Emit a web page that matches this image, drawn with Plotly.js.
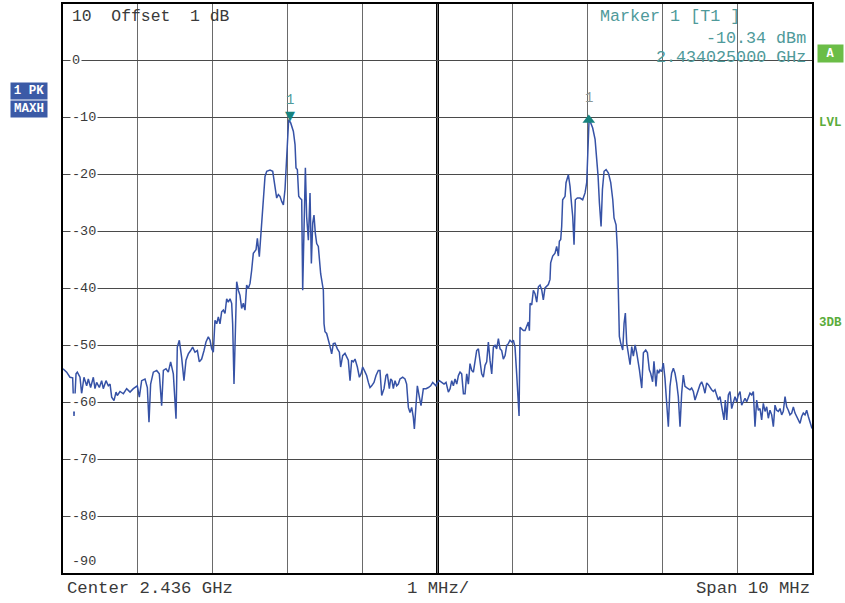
<!DOCTYPE html>
<html><head><meta charset="utf-8">
<script src="https://cdn.plot.ly/plotly-3.0.1.min.js"></script>
<style>html,body{margin:0;padding:0;background:#fff;}#chart{width:845px;height:603px;}</style>
</head><body><div id="chart"></div>
<script>
// ---- data ----
const startMHz = 2431;
const spanMHz = 10;
const centerMHz = 2436;
const refLevelDbm = 10;
const offsetDb = 1;
const freqOffsetMHz = [
0.000,0.049,0.093,0.129,0.147,0.174,0.191,0.227,0.249,0.280,
0.316,0.338,0.369,0.405,0.427,0.449,0.485,0.516,0.538,0.574,
0.605,0.628,0.650,0.681,0.708,0.725,0.761,0.806,0.850,0.895,
0.939,0.992,1.019,1.050,1.095,1.126,1.148,1.170,1.206,1.251,
1.286,1.317,1.340,1.375,1.406,1.437,1.473,1.509,1.526,1.553,
1.584,1.615,1.642,1.673,1.704,1.731,1.762,1.794,1.820,1.851,
1.883,1.909,1.940,1.963,1.985,2.007,2.029,2.052,2.074,2.096,
2.118,2.141,2.163,2.185,2.207,2.230,2.252,2.265,2.283,2.301,
2.319,2.341,2.363,2.385,2.408,2.430,2.452,2.474,2.497,
2.519,2.541,2.577,2.595,2.621,2.639,2.666,2.697,2.720,2.764,
2.800,2.831,2.853,2.875,2.897,2.920,2.942,2.964,2.986,3.000,
3.013,3.040,3.076,3.098,3.111,3.129,3.147,3.164,3.187,3.200,
3.218,3.236,3.253,3.276,3.298,3.316,3.334,3.351,3.369,3.387,
3.409,3.440,3.476,
3.485,3.498,3.520,3.556,3.587,3.609,3.632,3.663,3.690,3.707,
3.734,3.765,3.787,3.809,3.832,3.854,3.876,3.899,3.930,3.957,
3.979,4.001,4.023,4.054,4.077,4.099,4.121,4.152,4.179,4.210,
4.232,4.255,4.286,4.312,4.330,4.357,4.375,4.393,4.410,4.433,
4.455,4.477,4.499,4.535,4.566,4.588,4.611,4.633,4.655,4.677,
4.691,4.713,4.731,4.758,4.780,4.811,4.847,4.878,4.909,4.936,
4.958,4.980,4.998,5.025,5.056,5.087,5.114,5.145,5.168,5.190,
5.212,5.234,5.257,5.279,5.301,5.323,5.346,5.368,5.390,5.412,
5.434,5.457,5.479,5.501,5.523,5.546,5.568,5.590,5.612,5.635,
5.657,5.679,5.701,5.724,5.746,5.768,5.790,5.813,5.835,5.857,
5.879,5.902,5.924,5.946,5.968,5.991,6.013,6.035,6.057,6.080,
6.089,6.102,6.124,6.146,6.169,6.191,6.213,6.227,6.236,6.258,
6.280,6.302,6.325,6.347,6.369,
6.391,6.413,6.435,6.458,6.480,6.502,6.511,6.538,6.569,6.591,
6.614,6.627,6.645,6.658,6.671,6.703,6.716,6.747,6.769,6.792,
6.805,6.823,6.840,6.867,6.903,6.938,6.970,6.992,7.001,7.010,
7.023,7.046,7.072,7.104,7.126,7.144,7.162,7.184,7.202,7.224,
7.251,7.282,7.313,7.340,7.357,7.384,7.402,7.415,7.428,7.446,
7.473,7.491,7.508,7.526,7.549,7.571,7.593,7.615,7.638,7.660,
7.696,7.727,7.749,7.780,7.803,
7.828,7.846,7.872,7.890,7.904,7.917,7.935,7.953,7.970,7.993,
8.015,8.037,8.060,8.082,8.104,8.126,8.149,8.171,8.193,8.215,
8.238,8.260,8.282,8.304,8.336,8.371,8.393,8.416,8.438,8.460,
8.482,8.505,8.527,8.549,8.571,8.594,8.616,8.638,8.660,8.683,
8.705,8.727,8.749,8.772,8.794,8.807,8.825,8.843,8.861,8.883,
8.905,8.928,8.950,8.972,8.994,9.017,9.039,9.061,9.083,9.106,
9.128,9.150,9.172,9.195,9.217,9.239,9.261,9.284,9.306,9.328,
9.350,9.373,9.395,9.417,9.439,9.462,9.484,9.506,9.528,9.551,
9.573,9.595,9.617,9.640,9.662,9.684,9.706,9.729,9.751,9.773,
9.795,9.818,9.840,9.862,9.884,9.907,9.929,9.951,9.973,10.000
];
const levelDbm = [
-54.1,-54.7,-55.6,-55.7,-62.4,-55.0,-54.7,-55.6,-58.5,-55.6,
-57.1,-55.9,-57.4,-55.6,-57.6,-56.5,-57.4,-56.2,-57.6,-56.2,
-57.1,-56.8,-59.1,-59.7,-58.2,-58.8,-58.1,-58.5,-57.6,-58.2,
-57.6,-57.1,-59.1,-56.2,-55.9,-57.4,-63.5,-56.8,-54.7,-54.4,
-55.0,-60.6,-54.4,-54.1,-54.7,-52.9,-55.0,-62.9,-50.3,-49.1,
-52.1,-56.2,-52.6,-51.5,-50.9,-50.3,-51.2,-50.9,-52.9,-52.4,
-50.9,-49.4,-48.5,-49.1,-50.6,-51.2,-45.6,-46.2,-45.0,-46.2,
-44.1,-43.8,-44.4,-41.8,-42.4,-41.8,-42.6,-46.2,-56.8,-47.4,
-38.8,-40.3,-41.2,-43.5,-42.6,-43.8,-39.4,-40.0,-39.1,
-36.8,-33.8,-33.2,-31.2,-34.4,-30.9,-25.6,-20.3,-19.4,-19.2,
-19.4,-22.6,-24.1,-23.5,-23.8,-24.7,-25.3,-22.6,-16.8,-12.6,
-10.3,-10.9,-12.4,-14.7,-18.8,-19.1,-23.8,-24.1,-24.4,-40.3,
-29.7,-18.8,-27.4,-31.5,-23.2,-35.6,-28.5,-27.1,-30.3,-32.1,
-32.6,-37.4,-40.3,
-46.2,-47.6,-47.9,-49.7,-51.5,-49.7,-49.6,-50.6,-51.2,-53.8,
-51.8,-51.4,-52.1,-52.6,-56.2,-52.6,-52.9,-52.4,-53.8,-55.6,
-55.0,-53.8,-54.4,-55.3,-56.5,-57.4,-57.1,-56.5,-55.3,-54.4,
-54.4,-58.8,-57.6,-55.3,-55.0,-57.6,-55.9,-56.2,-57.6,-56.2,
-57.1,-56.8,-55.9,-55.6,-55.9,-56.8,-60.9,-61.8,-60.9,-62.6,
-64.7,-59.7,-57.1,-59.1,-60.6,-57.6,-57.6,-57.4,-57.1,-56.5,
-56.8,-57.1,-56.5,-56.2,-56.5,-56.8,-56.5,-58.2,-57.6,-56.2,
-57.1,-55.9,-56.8,-55.3,-54.7,-55.0,-58.5,-58.5,-55.0,-56.8,
-53.2,-54.4,-54.7,-52.4,-50.9,-50.6,-52.6,-55.0,-55.6,-53.5,
-52.9,-49.4,-52.6,-55.0,-50.3,-50.0,-50.6,-48.8,-50.6,-50.9,
-52.4,-51.8,-50.0,-49.7,-49.1,-49.4,-49.1,-50.3,-55.0,-59.7,
-62.4,-46.8,-47.1,-47.4,-47.4,-46.5,-45.9,-47.4,-42.6,-42.9,
-40.3,-40.9,-42.4,-39.7,-39.4,
-40.2,-42.0,-39.9,-39.6,-39.3,-38.4,-35.5,-34.3,-33.8,-32.6,
-34.3,-31.7,-31.4,-29.1,-24.4,-23.8,-21.4,-20.0,-22.0,-25.5,
-27.3,-32.3,-24.4,-24.1,-24.1,-24.4,-23.2,-21.4,-17.9,-13.2,
-10.6,-10.9,-11.8,-13.8,-17.3,-20.3,-25.0,-29.1,-22.6,-19.4,
-19.1,-19.7,-21.4,-24.4,-27.6,-28.8,-33.2,-41.4,-48.4,-49.6,
-50.8,-46.1,-44.3,-49.6,-51.9,-53.4,-50.2,-51.9,-49.9,-51.3,
-54.3,-57.5,-51.3,-50.8,-51.3,
-54.3,-54.9,-56.4,-52.8,-56.1,-57.2,-54.3,-54.9,-54.3,-54.6,
-53.1,-55.8,-60.2,-64.3,-57.2,-54.9,-54.0,-54.9,-56.6,-59.0,
-64.3,-58.4,-55.2,-57.2,-57.5,-57.8,-57.5,-58.1,-59.6,-58.7,
-57.8,-56.9,-56.4,-57.2,-58.4,-56.6,-56.9,-57.5,-57.8,-58.1,
-57.8,-58.7,-59.6,-59.0,-60.8,-61.9,-63.1,-59.6,-63.1,-58.7,
-58.1,-61.1,-60.2,-59.0,-59.9,-58.7,-58.1,-60.5,-59.9,-59.3,
-59.9,-59.0,-58.4,-58.7,-58.1,-64.3,-59.6,-61.4,-61.1,-63.1,
-60.2,-61.6,-60.8,-62.8,-61.4,-62.2,-64.3,-60.5,-61.4,-61.6,
-61.1,-62.2,-61.6,-59.0,-60.8,-61.4,-62.2,-61.9,-60.8,-61.9,
-62.5,-63.1,-63.7,-62.5,-61.9,-62.2,-61.4,-62.5,-63.4,-64.6
];
const markerFreqMHz = [2434.025, 2438.02];
const markerLevelDbm = [-10.34, -10.4];
const yTickValues = [0, -10, -20, -30, -40, -50, -60, -70, -80, -90];
const yTickLabels = ['0', '-10', '-20', '-30', '-40', '-50', '-60', '-70', '-80', '-90'];
const traceTags = ['1 PK', 'MAXH'];
const sideLabels = ['LVL', '3DB'];

// ---- build ----
const NB = '\u00a0';
const sp = s => s.replace(/ /g, NB);
const MONO = 'Liberation Mono, DejaVu Sans Mono, monospace';
const TEXTC = '#3a3a3a';
const TEAL = '#4f9a9a';
const freqMHz = freqOffsetMHz.map(f => startMHz + f);

const traces = [
  {x: freqMHz, y: levelDbm, type: 'scatter', mode: 'lines',
   line: {color: '#3652a6', width: 1.5}, hoverinfo: 'skip'},
  {x: [markerFreqMHz[1]], y: [markerLevelDbm[1]], type: 'scatter', mode: 'markers',
   marker: {symbol: 'triangle-up', size: 11, color: '#17837f'}, hoverinfo: 'skip'}
];

const ann = [];
// y tick labels inside plot
yTickValues.forEach((v, i) => {
  const last = (i === yTickValues.length - 1);
  ann.push({xref: 'paper', yref: 'y', x: 0.0093, y: v, xanchor: 'left',
    yanchor: last ? 'bottom' : 'middle', yshift: last ? 2 : 0,
    text: yTickLabels[i], showarrow: false, bgcolor: last ? 'rgba(0,0,0,0)' : '#ffffff',
    borderpad: 1, font: {family: MONO, size: 13.5, color: TEXTC}});
});
// top-left reference text
ann.push({xref: 'paper', yref: 'paper', x: 0.0093, y: 0.9789, xanchor: 'left', yanchor: 'middle',
  text: sp(refLevelDbm + '  Offset  ' + offsetDb + ' dB'), showarrow: false,
  font: {family: MONO, size: 16.4, color: TEXTC}});
// marker info
ann.push({xref: 'paper', yref: 'paper', x: 0.7143, y: 0.9772, xanchor: 'left', yanchor: 'middle',
  text: sp('Marker 1 [T1 ]'), showarrow: false, font: {family: MONO, size: 16.7, color: TEAL}});
ann.push({xref: 'paper', yref: 'paper', x: 0.9947, y: 0.9402, xanchor: 'right', yanchor: 'middle',
  text: sp(markerLevelDbm[0].toFixed(2) + ' dBm'), showarrow: false, font: {family: MONO, size: 16.7, color: TEAL}});
ann.push({xref: 'paper', yref: 'paper', x: 0.9947, y: 0.9051, xanchor: 'right', yanchor: 'middle',
  text: sp((markerFreqMHz[0] / 1000).toFixed(9) + ' GHz'), showarrow: false, font: {family: MONO, size: 16.7, color: TEAL}});
// marker symbols and labels
ann.push({xref: 'x', yref: 'y', x: markerFreqMHz[0], y: markerLevelDbm[0], xanchor: 'center', yanchor: 'bottom',
  yshift: -5, text: '\u25BC', showarrow: false, font: {family: 'DejaVu Sans', size: 13, color: '#17837f'}});
ann.push({xref: 'x', yref: 'y', x: markerFreqMHz[0], y: markerLevelDbm[0], xanchor: 'center', yanchor: 'middle',
  yshift: 20, text: '1', showarrow: false, font: {family: MONO, size: 14, color: TEAL}});
ann.push({xref: 'x', yref: 'y', x: markerFreqMHz[1], y: markerLevelDbm[1], xanchor: 'center', yanchor: 'middle',
  yshift: 22, text: '1', showarrow: false, font: {family: MONO, size: 14, color: '#8a9696'}});
// bottom labels
ann.push({xref: 'paper', yref: 'paper', x: 0.0027, y: -0.0281, xanchor: 'left', yanchor: 'middle',
  text: sp('Center ' + (centerMHz / 1000).toFixed(3) + ' GHz'), showarrow: false, font: {family: MONO, size: 17.3, color: TEXTC}});
ann.push({xref: 'paper', yref: 'paper', x: 0.5, y: -0.0281, xanchor: 'center', yanchor: 'middle',
  text: sp((spanMHz / 10) + ' MHz/'), showarrow: false, font: {family: MONO, size: 17.3, color: TEXTC}});
ann.push({xref: 'paper', yref: 'paper', x: 1.0, y: -0.0281, xanchor: 'right', yanchor: 'middle',
  text: sp('Span ' + spanMHz + ' MHz'), showarrow: false, font: {family: MONO, size: 17.3, color: TEXTC}});
// trace tags on the left
const tagY = [0.8471, 0.8155];
traceTags.forEach((t, i) => {
  ann.push({xref: 'paper', yref: 'paper', x: -0.0454, y: tagY[i], xanchor: 'center', yanchor: 'middle',
    text: '<b>' + sp(t) + '</b>', showarrow: false, bgcolor: '#3b5aa6', width: 34, height: 14, borderpad: 1,
    font: {family: MONO, size: 12.5, color: '#ffffff'}});
});
// right side labels
ann.push({xref: 'paper', yref: 'paper', x: 1.0247, y: 0.913, xanchor: 'center', yanchor: 'middle',
  text: '<b>A</b>', showarrow: false, bgcolor: '#6bbd47', width: 23, height: 15, borderpad: 1,
  font: {family: MONO, size: 12, color: '#ffffff'}});
const sideY = [0.7909, 0.4394];
sideLabels.forEach((t, i) => {
  ann.push({xref: 'paper', yref: 'paper', x: 1.0247, y: sideY[i], xanchor: 'center', yanchor: 'middle',
    text: '<b>' + t + '</b>', showarrow: false, font: {family: MONO, size: 12.5, color: '#5aac3a'}});
});

const layout = {
  width: 845, height: 603,
  margin: {l: 63, r: 33, t: 4, b: 30, pad: 0},
  paper_bgcolor: '#ffffff', plot_bgcolor: '#ffffff',
  showlegend: false,
  xaxis: {range: [startMHz, startMHz + spanMHz], tick0: startMHz, dtick: spanMHz / 10,
    showgrid: true, gridcolor: '#6a6a6a', gridwidth: 1, showticklabels: false, ticks: '',
    zeroline: false, showline: true, linecolor: '#000000', linewidth: 2, mirror: true, fixedrange: true},
  yaxis: {range: [yTickValues[yTickValues.length - 1], refLevelDbm], tick0: 0, dtick: 10,
    showgrid: true, gridcolor: '#4a4a4a', gridwidth: 1, showticklabels: false, ticks: '',
    zeroline: false, showline: true, linecolor: '#000000', linewidth: 2, mirror: true, fixedrange: true},
  shapes: [{type: 'line', xref: 'x', yref: 'paper', x0: centerMHz, x1: centerMHz, y0: 0, y1: 1,
    line: {color: '#000000', width: 3}, layer: 'below'}],
  annotations: ann
};

Plotly.newPlot('chart', traces, layout, {staticPlot: true, displayModeBar: false});
</script>
</body></html>
